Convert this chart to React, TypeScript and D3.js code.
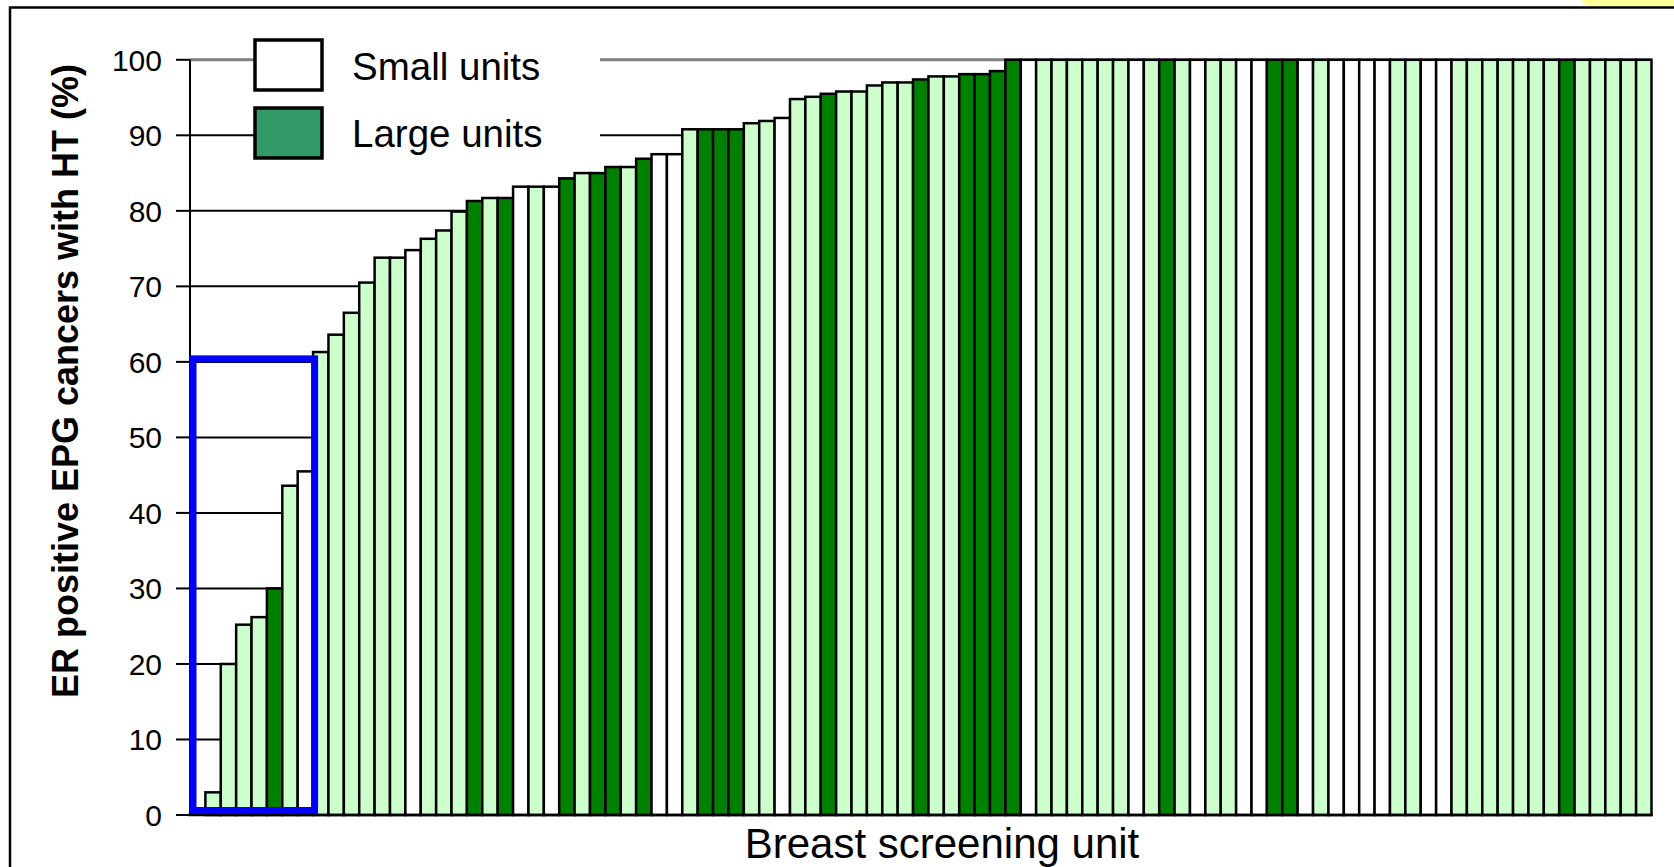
import React from "react";
import * as d3 from "d3";

// ---- data ----
const hormoneTherapyPct: number[] = [
  0, 3, 20, 25.2, 26.2, 30, 43.6, 45.5, 61.3, 63.6,
  66.5, 70.5, 73.8, 73.8, 74.8, 76.3, 77.4, 79.9, 81.3, 81.7,
  81.7, 83.2, 83.2, 83.2, 84.3, 85.0, 85.0, 85.8, 85.8, 86.9,
  87.5, 87.5, 90.8, 90.8, 90.8, 90.8, 91.6, 91.9, 92.3, 94.8,
  95.1, 95.5, 95.8, 95.8, 96.6, 97.0, 97.0, 97.4, 97.8, 97.8,
  98.1, 98.1, 98.5, 100, 100, 100, 100, 100, 100, 100,
  100, 100, 100, 100, 100, 100, 100, 100, 100, 100,
  100, 100, 100, 100, 100, 100, 100, 100, 100, 100,
  100, 100, 100, 100, 100, 100, 100, 100, 100, 100,
  100, 100, 100, 100, 100,
];

// s = small (white), m = medium (light green), l = large (dark green)
const unitSize: string[] = (
  "mmmmmlmsmm" +
  "mmmmsmmmlm" +
  "lsmslmllml" +
  "ssmlllmmsm" +
  "mlmmmmmlmm" +
  "llllsmmmmm" +
  "msmlmsmmss" +
  "llsmssssmm" +
  "ssmmmmmmml" +
  "mmmmm"
).split("");

const yTicks: number[] = [0, 10, 20, 30, 40, 50, 60, 70, 80, 90, 100];
const legendItems: string[] = ["Small units", "Large units"];
const highlightMax = 60.4; // blue box around the lowest-ranked units
const highlightCount = 8;

const W = 1674;
const H = 867;
const plotLeft = 190;
const plotRight = 1651.5;
const plotTop = 59.8;
const plotBottom = 815;

const fillFor: Record<string, string> = {
  s: "#ffffff",
  m: "#ccffcc",
  l: "#008000",
};

export default function App() {
  const units = hormoneTherapyPct.map((_, i) => i);
  const x = d3
    .scaleBand<number>()
    .domain(units)
    .range([plotLeft, plotRight])
    .paddingInner(0)
    .paddingOuter(0);
  const y = d3.scaleLinear().domain([0, 100]).range([plotBottom, plotTop]);
  const bw = x.bandwidth();

  const font = "'Liberation Sans', Arial, sans-serif";

  return (
    <svg
      width={W}
      height={H}
      viewBox={`0 0 ${W} ${H}`}
      style={{ position: "absolute", left: 0, top: 0, background: "#fff" }}
    >
      <rect x={0} y={0} width={W} height={H} fill="#ffffff" />
      {/* yellow corner decoration */}
      <polygon points="1581,0 1674,0 1674,6 1587,6" fill="#ffff99" />
      {/* outer frame */}
      <rect
        x={10}
        y={7.5}
        width={W + 20}
        height={H + 20}
        fill="none"
        stroke="#000"
        strokeWidth={2.5}
      />

      {/* gridlines */}
      {yTicks
        .filter((t) => t > 0)
        .map((t) => (
          <line
            key={"g" + t}
            x1={plotLeft}
            x2={plotRight}
            y1={y(t)}
            y2={y(t)}
            stroke={t === 100 ? "#808080" : "#000"}
            strokeWidth={t === 100 ? 3 : 2}
          />
        ))}

      {/* bars */}
      {hormoneTherapyPct.map((v, i) => (
        <rect
          key={"b" + i}
          x={x(i)}
          y={y(v)}
          width={bw}
          height={y(0) - y(v)}
          fill={fillFor[unitSize[i]]}
          stroke="#000"
          strokeWidth={2.5}
        />
      ))}

      {/* axes */}
      <line x1={plotLeft} x2={plotLeft} y1={plotTop} y2={plotBottom} stroke="#000" strokeWidth={2} />
      <line x1={plotLeft - 2} x2={plotRight + 1} y1={plotBottom} y2={plotBottom} stroke="#000" strokeWidth={2.5} />
      {yTicks.map((t) => (
        <g key={"t" + t}>
          <line x1={plotLeft - 14} x2={plotLeft} y1={y(t)} y2={y(t)} stroke="#000" strokeWidth={2} />
          <text
            x={162}
            y={y(t)}
            dy="0.36em"
            textAnchor="end"
            fontFamily={font}
            fontSize={30}
            fill="#000"
          >
            {t}
          </text>
        </g>
      ))}

      {/* highlight box */}
      <rect
        x={x(0)! + 3}
        y={y(highlightMax)}
        width={x(highlightCount)! - x(0)! - 1.5}
        height={y(0) - 4.5 - y(highlightMax)}
        fill="none"
        stroke="#0000ff"
        strokeWidth={7}
      />

      {/* legend */}
      <rect x={254} y={28} width={346} height={140} fill="#ffffff" />
      {legendItems.map((name, i) => (
        <g key={name}>
          <rect
            x={255}
            y={40 + i * 68}
            width={67}
            height={50}
            fill={i === 0 ? "#ffffff" : "#339966"}
            stroke="#000"
            strokeWidth={3.5}
          />
          <text
            x={352}
            y={66 + i * 67.5}
            dy="0.36em"
            fontFamily={font}
            fontSize={38.5}
            fill="#000"
          >
            {name}
          </text>
        </g>
      ))}

      {/* axis titles */}
      <text
        transform={`translate(78,381) rotate(-90)`}
        textAnchor="middle"
        fontFamily={font}
        fontWeight="bold"
        fontSize={36}
        fill="#000"
      >
        ER positive EPG cancers with HT (%)
      </text>
      <text
        x={942}
        y={858}
        textAnchor="middle"
        fontFamily={font}
        fontSize={42}
        fill="#000"
      >
        Breast screening unit
      </text>
    </svg>
  );
}
